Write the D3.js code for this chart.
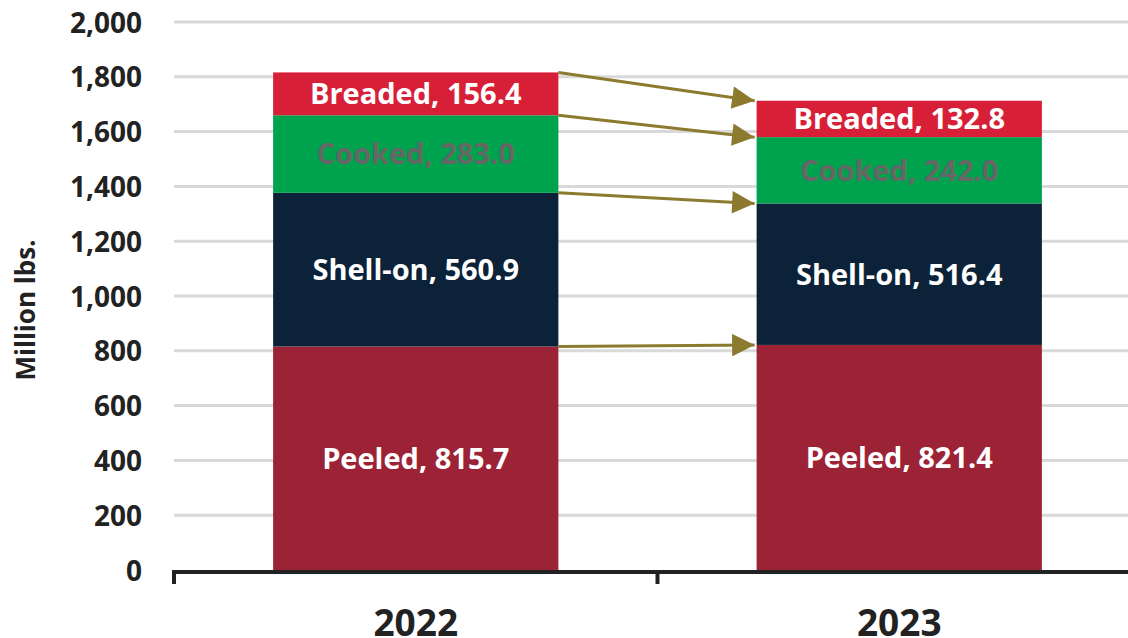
<!DOCTYPE html>
<html><head><meta charset="utf-8">
<script src="https://cdn.jsdelivr.net/npm/d3@7"></script>
<style>body{margin:0;background:#fff}svg{display:block}text{font-family:"Open Sans","Noto Sans",sans-serif;font-weight:700}</style>
</head><body><svg id="c" width="1128" height="638"></svg>
<script>
const years = ["2022", "2023"];
const segments = ["Peeled", "Shell-on", "Cooked", "Breaded"];
const peeled = [815.7, 821.4];
const shellOn = [560.9, 516.4];
const cooked = [283.0, 242.0];
const breaded = [156.4, 132.8];
const yTicks = [0, 200, 400, 600, 800, 1000, 1200, 1400, 1600, 1800, 2000];
const colors = ["#9c2236", "#0b2239", "#00a34d", "#d81f38"];
const labelColors = ["#fff", "#fff", "#666", "#fff"];

const svg = d3.select("#c");
const x = d3.scaleBand().domain(years).range([174, 1141]).paddingInner(0.41).paddingOuter(0.205);
const y = d3.scaleLinear().domain([0, 2000]).range([570, 22]);

const rows = years.map((yr, i) => ({year: yr, Peeled: peeled[i], "Shell-on": shellOn[i], Cooked: cooked[i], Breaded: breaded[i]}));
const stack = d3.stack().keys(segments)(rows);

// gridlines
svg.append("g").selectAll("line").data(yTicks.slice(1)).join("line")
  .attr("x1", 174).attr("x2", 1128).attr("y1", d => y(d)).attr("y2", d => y(d))
  .attr("stroke", "#d9d9d9").attr("stroke-width", 3);

// y axis labels
const yAxis = d3.axisLeft(y).tickValues(yTicks).tickFormat(d3.format(",")).tickSize(0).tickPadding(0);
const gy = svg.append("g").attr("transform", "translate(142,0)").call(yAxis);
gy.select(".domain").remove();
gy.selectAll("text").attr("font-size", 28).attr("fill", "#222").attr("dy", "0.36em")
  .style("font-family", '"Open Sans","Noto Sans",sans-serif').style("font-weight", 700);

// bars
stack.forEach((s, k) => {
  svg.append("g").selectAll("rect").data(s).join("rect")
    .attr("x", d => x(d.data.year)).attr("width", x.bandwidth())
    .attr("y", d => y(d[1])).attr("height", d => y(d[0]) - y(d[1]))
    .attr("fill", colors[k]);
  svg.append("g").selectAll("text").data(s).join("text")
    .attr("x", d => x(d.data.year) + x.bandwidth() / 2)
    .attr("y", d => (y(d[0]) + y(d[1])) / 2)
    .attr("dy", "0.36em").attr("text-anchor", "middle")
    .attr("font-size", 29).attr("fill", labelColors[k])
    .text(d => segments[k] + ", " + (d[1] - d[0]).toFixed(1));
});

// x axis
const xAxisG = svg.append("g").attr("transform", "translate(0,572)");
xAxisG.append("line").attr("x1", 174).attr("x2", 1128).attr("y1", 0).attr("y2", 0).attr("stroke", "#222").attr("stroke-width", 4);
const tickXs = [x.range()[0], x.range()[0] + x.step()];
xAxisG.selectAll("line.t").data(tickXs).join("line").attr("class", "t")
  .attr("x1", d => d).attr("x2", d => d).attr("y1", -2).attr("y2", 12).attr("stroke", "#222").attr("stroke-width", 4);
svg.append("g").selectAll("text").data(years).join("text")
  .attr("x", d => x(d) + x.bandwidth() / 2).attr("y", 636)
  .attr("text-anchor", "middle").attr("font-size", 37).attr("fill", "#222").text(d => d);

// y title
svg.append("text").attr("transform", "translate(35,310) rotate(-90)")
  .attr("text-anchor", "middle").attr("font-size", 26).attr("fill", "#222").text("Million lbs.");

// arrows
svg.append("defs").append("marker").attr("id", "ah").attr("viewBox", "0 0 10 10")
  .attr("refX", 10).attr("refY", 5).attr("markerWidth", 8).attr("markerHeight", 7.5)
  .attr("markerUnits", "strokeWidth").attr("orient", "auto")
  .append("path").attr("d", "M0,0 L10,5 L0,10 Z").attr("fill", "#8c7a2f");
const x0 = x(years[0]) + x.bandwidth(), x1 = x(years[1]);
svg.append("g").selectAll("line").data(stack).join("line")
  .attr("x1", x0).attr("y1", d => y(d[0][1]))
  .attr("x2", x1 - 2).attr("y2", d => y(d[1][1]))
  .attr("stroke", "#8c7a2f").attr("stroke-width", 3).attr("marker-end", "url(#ah)");
</script></body></html>
